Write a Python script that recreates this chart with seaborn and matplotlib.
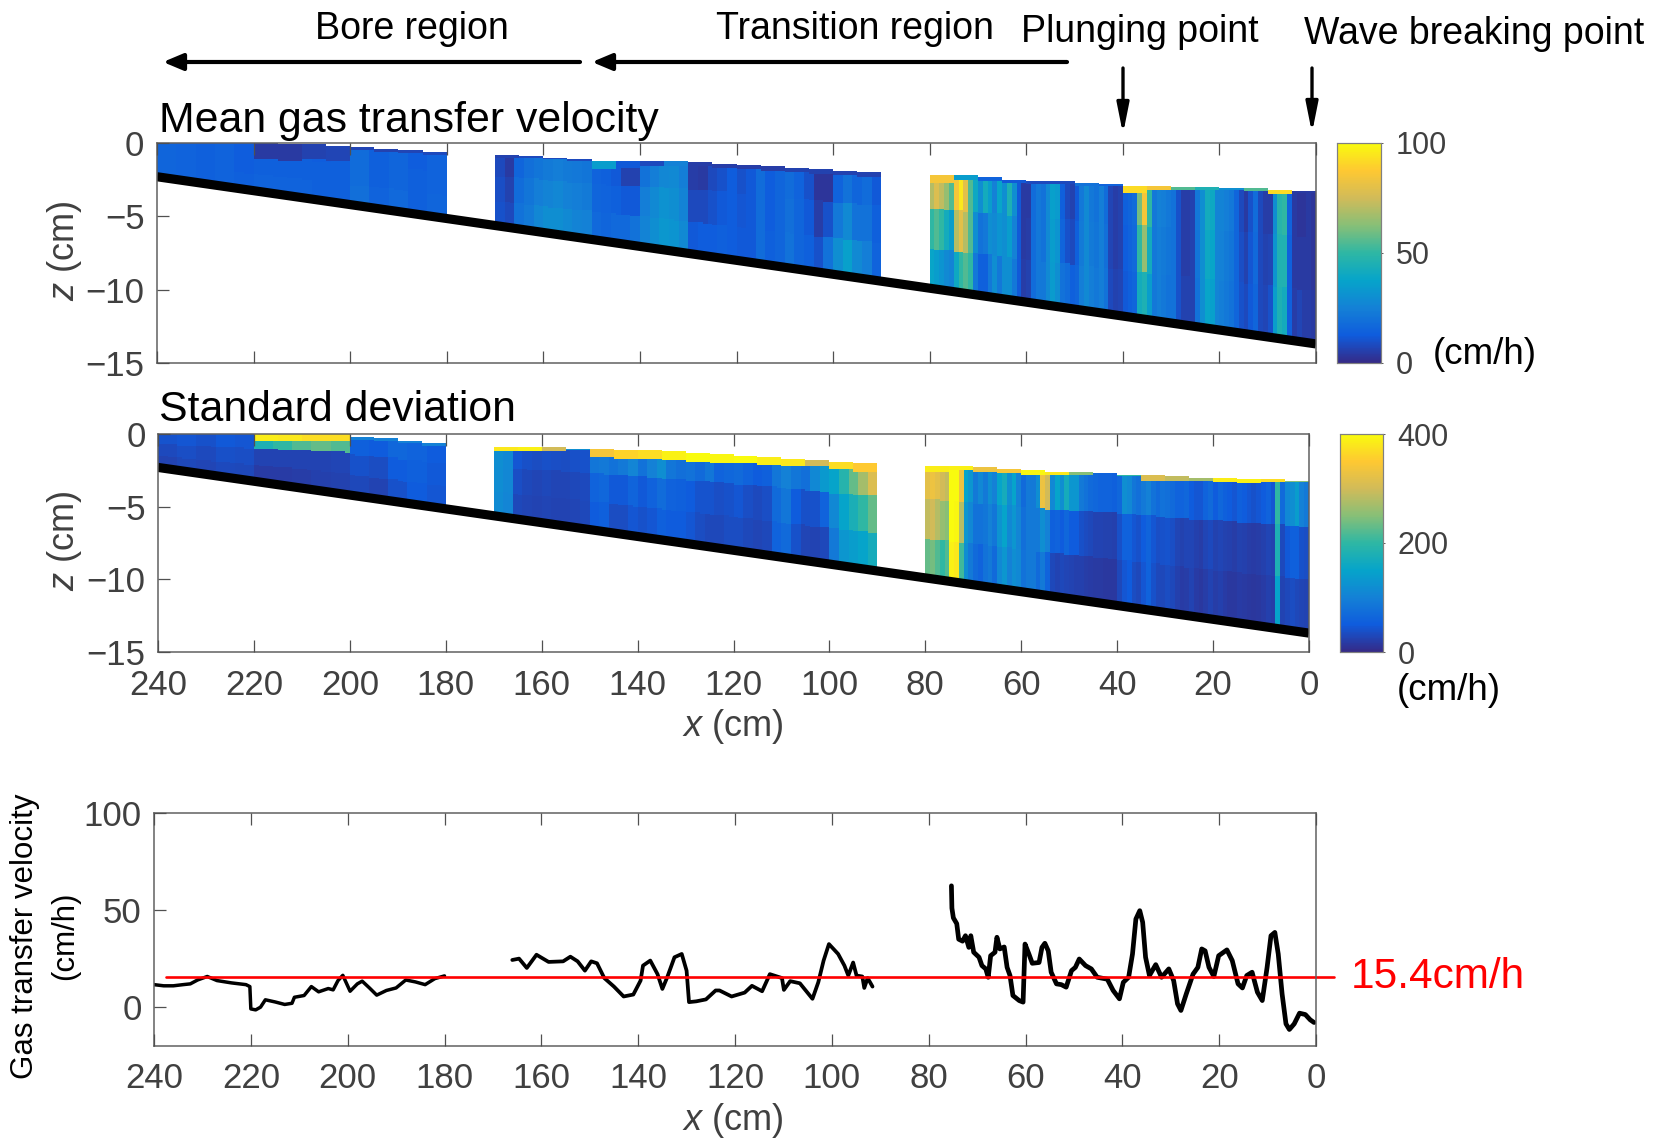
import numpy as np
import pandas as pd
import matplotlib
matplotlib.use("Agg")
import matplotlib.pyplot as plt
from matplotlib.colors import LinearSegmentedColormap
import seaborn as sns

nan = float("nan")

FIG_W = 1653
FIG_H = 1138
GREY = "#404040"

x_ticks = [240, 220, 200, 180, 160, 140, 120, 100, 80, 60, 40, 20, 0]
z_ticks = [0, -5, -10, -15]
vel_ticks = [0, 50, 100]
mean_cbar_ticks = [0, 50, 100]
std_cbar_ticks = [0, 200, 400]

bed_x = [0, 240]
bed_z = [-13.7, -2.3]

# water surface depth, one value per 5 cm from x=240 to x=0
mean_surface = [0, 0, 0, 0, .05, .1, .15, .2, .3, .4, .5, .65, nan, nan,
                .85, .9, 1.0, 1.1, 1.2, 1.2, 1.2, 1.25, 1.3, 1.4, 1.5, 1.65, 1.75, 1.85, 1.95, 2.0, nan, nan,
                2.2, 2.25, 2.35, 2.5, 2.6, 2.65, 2.75, 2.8, 2.9, 2.95, 3.0, 3.0, 3.1, 3.15, 3.2, 3.3]
std_surface = [0, 0, 0, 0, 0, 0, 0, 0, .25, .35, .5, .65, nan, nan,
               .9, .95, .95, 1.0, 1.05, 1.1, 1.15, 1.25, 1.3, 1.4, 1.5, 1.6, 1.7, 1.85, 1.95, 2.0, nan, nan,
               2.2, 2.25, 2.35, 2.45, 2.55, 2.6, 2.65, 2.7, 2.8, 2.85, 2.95, 3.0, 3.0, 3.1, 3.15, 3.25]

# thin layer under the surface, one value per 5 cm
mean_band_depth = [.1, .1, .1, .1, 1.1, 1.1, 1.0, 1.0, .2, .2, .2, .2, 0, 0,
                   .15, .15, .15, .15, .6, .5, .4, .4, .3, .3, .3, .3, .3, .3, .3, .3, 0, 0,
                   .5, .25, .2, .2, .2, .15, .15, .1, .5, .3, .2, .2, .15, .15, .3, .1]
mean_band = [12, 12, 12, 12, 4, 4, 6, 7, 7, 6, 7, 8, 0, 0,
             6, 8, 8, 8, 35, 12, 8, 25, 5, 5, 5, 5, 6, 6, 6, 6, 0, 0,
             85, 35, 15, 12, 8, 8, 20, 15, 92, 85, 55, 45, 30, 55, 92, 4]
std_band_depth = [.05, .05, .05, .05, .55, .55, .5, .5, .15, .15, .15, .15, 0, 0,
                  .3, .3, .3, .1, .6, .6, .55, .6, .6, .6, .5, .45, .5, .35, .5, .6, 0, 0,
                  .4, .3, .3, .25, .3, .2, .15, .05, .15, .4, .3, .25, .3, .3, .2, .1]
std_band = [40, 40, 40, 40, 385, 380, 370, 370, 100, 100, 100, 100, 0, 0,
            380, 390, 300, 120, 340, 360, 370, 390, 400, 395, 400, 385, 380, 300, 370, 350, 0, 0,
            385, 390, 330, 340, 395, 380, 250, 120, 200, 310, 290, 270, 385, 390, 370, 250]

# bore part, 4 cm columns from x=240 to x=180
mean_bore_upper = [16, 15, 14, 15, 13, 14, 14, 14, 13, 14, 18, 14, 16, 13, 15]
mean_bore_mid = [16, 15, 14, 15, 13, 14, 14, 14, 14, 14, 18, 14, 16, 14, 15]
mean_bore_lower = [16, 15, 14, 15, 14, 15, 15, 15, 14, 14, 19, 15, 17, 14, 16]
std_bore_upper = [42, 45, 40, 48, 45, 180, 200, 220, 230, 220, 55, 50, 65, 60, 50]
std_bore_mid = [32, 36, 32, 38, 36, 25, 25, 26, 26, 28, 40, 35, 50, 55, 48]
std_bore_lower = [25, 30, 28, 32, 30, 18, 18, 20, 22, 24, 30, 25, 40, 50, 45]

# transition part, 2 cm columns from x=170 to x=90
mean_trans_upper = [8, 4, 16, 19, 21, 23, 24, 23, 22, 21, 15, 14, 12, 6, 6, 20, 24, 27, 28, 24,
                    5, 4, 8, 10, 13, 10, 12, 18, 13, 16, 18, 15, 10, 3, 3, 15, 20, 16, 18, 12]
mean_trans_mid = [9, 6, 18, 21, 24, 26, 27, 25, 24, 23, 16, 15, 14, 12, 12, 24, 28, 31, 30, 26,
                  8, 8, 10, 12, 13, 11, 12, 18, 13, 16, 19, 16, 12, 5, 10, 22, 28, 20, 20, 14]
mean_trans_lower = [10, 8, 20, 23, 27, 30, 30, 28, 26, 25, 17, 16, 17, 17, 20, 26, 30, 33, 32, 28,
                    12, 13, 13, 14, 13, 12, 12, 18, 14, 16, 20, 16, 14, 10, 20, 30, 36, 28, 24, 15]
std_trans_upper = [120, 110, 45, 38, 35, 38, 36, 35, 38, 40, 85, 90, 80, 90, 105, 80, 100, 120, 85, 75,
                   80, 70, 85, 60, 65, 70, 60, 50, 55, 85, 100, 85, 75, 110, 135, 150, 190, 230, 270, 310]
std_trans_mid = [118, 108, 36, 30, 28, 30, 28, 28, 30, 32, 60, 65, 48, 48, 62, 48, 58, 72, 58, 55,
                 50, 42, 42, 36, 40, 44, 36, 32, 36, 70, 85, 50, 38, 40, 60, 110, 150, 175, 200, 230]
std_trans_lower = [115, 105, 30, 28, 25, 28, 25, 25, 28, 30, 50, 55, 35, 35, 45, 40, 45, 55, 50, 50,
                   45, 35, 30, 30, 35, 35, 30, 28, 30, 60, 70, 40, 28, 25, 30, 90, 130, 140, 150, 170]

# plunging part, 1 cm columns from x=80 to x=0
mean_plunge_upper = [70, 78, 72, 65, 55, 85, 95, 80, 55, 40, 30, 42, 35, 25, 38, 30, 45, 30, 12, 4,
                     4, 18, 22, 20, 28, 36, 34, 14, 8, 6, 12, 22, 28, 22, 20, 24, 18, 7, 5, 6,
                     14, 16, 18, 60, 85, 50, 22, 25, 24, 22, 20, 10, 5, 5, 6, 22, 30, 42, 40, 26,
                     26, 24, 22, 16, 8, 4, 10, 18, 8, 5, 5, 30, 48, 50, 15, 4, 3, 3, 4, 3]
mean_plunge_mid = [50, 55, 50, 42, 35, 70, 80, 70, 55, 30, 20, 22, 30, 28, 32, 30, 35, 25, 12, 4,
                   5, 18, 22, 20, 28, 35, 32, 16, 10, 8, 14, 23, 28, 23, 21, 24, 19, 7, 5, 6,
                   13, 15, 17, 50, 65, 42, 22, 24, 23, 21, 20, 10, 5, 5, 6, 21, 30, 40, 38, 26,
                   25, 23, 21, 16, 9, 6, 11, 17, 8, 6, 7, 32, 46, 46, 14, 4, 4, 4, 4, 3]
mean_plunge_lower = [38, 35, 32, 28, 26, 40, 50, 55, 50, 22, 14, 14, 22, 30, 22, 30, 30, 22, 12, 5,
                     6, 18, 22, 22, 28, 34, 30, 20, 18, 14, 16, 24, 28, 24, 22, 24, 20, 8, 6, 7,
                     12, 14, 16, 42, 45, 35, 22, 24, 22, 20, 20, 10, 6, 6, 6, 20, 30, 38, 36, 26,
                     24, 22, 20, 16, 10, 8, 12, 16, 8, 7, 10, 35, 45, 42, 14, 5, 7, 5, 5, 4]
std_plunge_upper = [320, 330, 320, 300, 290, 400, 400, 330, 150, 130, 90, 110, 90, 120, 100, 150, 170, 120, 150, 100,
                    70, 90, 90, 120, 330, 300, 110, 150, 120, 170, 130, 130, 90, 80, 70, 65, 60, 60, 60, 55,
                    65, 120, 110, 85, 75, 90, 100, 80, 70, 80, 75, 70, 60, 60, 65, 50, 45, 45, 60, 70,
                    50, 65, 55, 50, 45, 55, 50, 45, 40, 45, 50, 60, 45, 200, 70, 110, 120, 140, 100, 90]
std_plunge_mid = [290, 300, 280, 260, 250, 400, 395, 280, 130, 110, 80, 80, 85, 100, 85, 125, 150, 110, 130, 105,
                  75, 90, 90, 90, 120, 100, 55, 60, 50, 65, 50, 50, 38, 34, 30, 26, 26, 24, 24, 22,
                  38, 58, 58, 45, 40, 50, 62, 45, 36, 40, 42, 36, 28, 24, 28, 28, 22, 20, 28, 32,
                  24, 28, 24, 22, 20, 24, 22, 20, 18, 20, 22, 28, 24, 180, 32, 48, 56, 56, 40, 36]
std_plunge_lower = [230, 240, 220, 200, 220, 390, 380, 210, 120, 90, 70, 60, 80, 90, 70, 110, 130, 100, 120, 110,
                    80, 90, 90, 70, 90, 60, 30, 25, 30, 28, 25, 22, 22, 20, 18, 16, 16, 15, 15, 15,
                    30, 45, 50, 35, 30, 45, 60, 40, 30, 30, 35, 30, 22, 18, 20, 25, 18, 15, 20, 25,
                    20, 22, 18, 15, 15, 18, 16, 15, 14, 15, 18, 22, 20, 150, 25, 30, 35, 30, 28, 25]

# gas transfer velocity along the flume
bore_x = [240, 238, 236, 234, 232.5, 231, 229, 227, 224, 221, 220.2, 220, 219, 218, 217, 215, 213, 211.5, 211, 209,
          207.5, 206, 204, 203, 202, 201, 199.5, 198, 197, 195.5, 194, 192, 190, 188, 186, 184, 182, 180]
bore_vel = [11.6, 11, 11, 11.6, 12, 14, 15.8, 13.7, 12.5, 11.6, 10.6, -.9, -1.4, 0, 3.8, 2.7, 1.4, 2, 5.1, 6,
            10.6, 7.9, 9.6, 8.9, 13.7, 16.4, 8.2, 12, 13.4, 9.9, 6.2, 8.6, 9.9, 14, 13, 11.6, 14.7, 16.1]
trans_x = [166, 164.6, 163, 161, 158.5, 155.5, 154, 152.5, 151, 149.7, 148.5, 147, 145, 143, 141, 139.5, 139, 137.5,
           136, 135, 134, 132.5, 131, 130, 129.5, 128, 126, 124, 123.2, 120.7, 118, 116.5, 114.4, 112.8, 110.3, 109.9,
           108.6, 106.6, 104, 102.8, 101.7, 100.6, 98.7, 97.4, 96.6, 95.6, 94.9, 93.7, 93.3, 92.6, 91.6]
trans_vel = [24.3, 25, 20.2, 27, 23.3, 23.6, 26, 23.6, 18.8, 23.6, 22.6, 15, 10.6, 5.5, 6.5, 13.7, 21.4, 24,
             17, 9.4, 15.4, 25.7, 27.4, 18.8, 2.6, 3, 4, 8.6, 8.6, 5.5, 7.5, 11, 8.2, 17, 15, 8.9,
             13.4, 12.3, 4.3, 12.8, 24, 32.5, 27.4, 21.4, 16.3, 23, 16.3, 15.8, 9.9, 15, 10.6]
plunge_x = [75.3, 75.2, 74.9, 74.2, 73.8, 73, 72.4, 71.7, 71.3, 70.7, 69.6, 69, 68.2, 67.7, 67.2, 66.3, 65.9, 65.3,
            64.4, 63.8, 63.2, 62.6, 61.3, 60.5, 60.1, 59.3, 58.6, 57.2, 56.6, 56, 55.3, 54.7, 53.6, 52.6, 51.6, 50.5,
            49.7, 48.9, 47.6, 46.4, 45.2, 43.1, 41.9, 40.6, 39.8, 38.7, 37.9, 37.2, 36.4, 35.8, 35.2, 34.4, 33.1, 31.9,
            30.4, 29.4, 28.6, 27.9, 26.8, 25.4, 24.4, 23.6, 22.9, 22.1, 21.1, 20.1, 18.4, 17.3, 16.1, 15.2, 14.3, 13.2,
            12.1, 11.1, 10.1, 9.3, 8.5, 7.8, 7, 6.2, 5.5, 4.5, 3.4, 2.2, 1.2, .4]
plunge_vel = [62.5, 51, 46, 43, 35, 34, 36.8, 30.8, 36.8, 28.3, 25.7, 21.4, 19.7, 15.4, 26.5, 28.3, 36, 30,
              31, 20.5, 16.3, 6, 3.4, 2.6, 32.5, 27.4, 22.6, 23, 30.8, 32.9, 29, 18, 12, 11.6, 10.3, 18.8,
              20.5, 24.8, 21.4, 19.7, 15.4, 14.4, 8.6, 4.3, 12.8, 15.4, 27.4, 45.4, 49.7, 43.7, 25.7, 16.3, 21.9, 15.4,
              19.7, 13.7, 1.7, -1.7, 6.8, 17, 20.5, 30, 29, 20.5, 15.8, 26.5, 29.5, 24, 12, 9.9, 16.3, 18,
              7.7, 3.4, 20.5, 36.8, 38.5, 27.4, 6.8, -8.6, -11.5, -8.6, -3.1, -3.8, -6.5, -7.9]
mean_vel = [15.4, 15.4]
mean_vel_x = [237.6, -3.7]

parula_colors = ["#352a87", "#0f5cdd", "#1481d6", "#06a4ca", "#2eb7a4", "#87bf77", "#d1bb59", "#fec832", "#f9fb0e"]
parula = LinearSegmentedColormap.from_list("parula", parula_colors)

sns.set_theme(style="white")
plt.rcParams["font.family"] = ["Liberation Sans", "DejaVu Sans"]
plt.rcParams["mathtext.fontset"] = "custom"
plt.rcParams["mathtext.it"] = "Liberation Sans:italic"
plt.rcParams["mathtext.rm"] = "Liberation Sans"


def px_axes(fig, left, top, right, bottom):
    return fig.add_axes([left / FIG_W, 1 - bottom / FIG_H, (right - left) / FIG_W, (bottom - top) / FIG_H])


def columns(bore, trans, plunge):
    # one value per cm, empty in the two gaps between camera windows
    gap = [nan] * 10
    return np.concatenate([np.repeat(bore, 4), gap, np.repeat(trans, 2), gap, plunge])


def build_field(surface, band_depth, band, upper, mid, lower):
    depth = np.arange(150) * 0.1 + 0.05
    x_mid = 240 - np.arange(240) - 0.5
    bed = -np.interp(x_mid, bed_x, bed_z)
    field = np.full((150, 240), nan)
    for j in range(240):
        top = surface[j // 5]
        if np.isnan(top):
            continue
        frac = (depth - top) / (bed[j] - top)
        values = np.where(frac < 0.3, upper[j], np.where(frac < 0.65, mid[j], lower[j]))
        values = np.where(depth < top + band_depth[j // 5], band[j // 5], values)
        field[:, j] = np.where((depth >= top) & (depth <= bed[j]), values, nan)
    index = [f"{-d:.2f}" for d in depth]
    return pd.DataFrame(field, index=index, columns=240 - np.arange(240))


def style_axes(ax, x_labels, xt, xlabs, x_pad):
    for spine in ax.spines.values():
        spine.set_visible(True)
        spine.set_color("#606060")
        spine.set_linewidth(1.1)
    ax.set_xticks(xt)
    ax.set_xticklabels(xlabs if x_labels else [], rotation=0)
    ax.tick_params(axis="both", direction="in", length=8.5, width=0.9, color="#505050",
                   labelcolor=GREY, labelsize=25, top=True, bottom=True, left=True, right=False)
    ax.tick_params(axis="x", pad=x_pad)
    ax.tick_params(axis="y", pad=9)
    ax.set_xlabel("")
    ax.set_ylabel("")
    ax.set_axisbelow(False)


def depth_panel(fig, box, cbar_box, field, vmax, cbar_ticks, x_labels):
    ax = px_axes(fig, *box)
    cax = px_axes(fig, *cbar_box)
    sns.heatmap(field, ax=ax, cmap=parula, vmin=0, vmax=vmax, cbar_ax=cax,
                cbar_kws={"ticks": cbar_ticks}, xticklabels=False, yticklabels=False)
    # bed slope, heatmap axes count in cells
    ax.plot([240 - bed_x[1], 240 - bed_x[0]], [-bed_z[1] * 10, -bed_z[0] * 10], color="black",
            lw=6.6, solid_capstyle="butt")
    style_axes(ax, x_labels, [240 - t for t in x_ticks], x_ticks, 12.5)
    ax.set_yticks([-t * 10 for t in z_ticks])
    ax.set_yticklabels([str(t).replace("-", "\u2212") for t in z_ticks], rotation=0)
    ax.set_xlim(0, 240)
    ax.set_ylim(150, 0)
    cax.tick_params(length=1.5, width=0.6, labelsize=22, labelcolor=GREY, pad=9, right=True, color=GREY)
    for spine in cax.spines.values():
        spine.set_visible(True)
        spine.set_color("#808080")
        spine.set_linewidth(0.8)
    return ax


def label(fig, x, y, text, size=26.5, color="black", rotation=0, ha="center"):
    fig.text(x / FIG_W, 1 - y / FIG_H, text, fontsize=size, color=color, rotation=rotation,
             ha=ha, va="center", rotation_mode="anchor" if rotation else "default")


def arrow(fig, start, end, lw, head):
    fig.add_artist(plt.Annotation("", xy=(end[0] / FIG_W, 1 - end[1] / FIG_H),
                                  xytext=(start[0] / FIG_W, 1 - start[1] / FIG_H),
                                  xycoords="figure fraction", textcoords="figure fraction",
                                  arrowprops=dict(arrowstyle=head, color="black", lw=lw, shrinkA=0, shrinkB=0)))


def plot_gas_transfer():
    fig = plt.figure(figsize=(FIG_W / 100, FIG_H / 100), dpi=100)

    mean_field = build_field(mean_surface, mean_band_depth, mean_band,
                             columns(mean_bore_upper, mean_trans_upper, mean_plunge_upper),
                             columns(mean_bore_mid, mean_trans_mid, mean_plunge_mid),
                             columns(mean_bore_lower, mean_trans_lower, mean_plunge_lower))
    std_field = build_field(std_surface, std_band_depth, std_band,
                            columns(std_bore_upper, std_trans_upper, std_plunge_upper),
                            columns(std_bore_mid, std_trans_mid, std_plunge_mid),
                            columns(std_bore_lower, std_trans_lower, std_plunge_lower))

    depth_panel(fig, (157, 143, 1316, 363), (1337, 143, 1381, 363), mean_field, 100, mean_cbar_ticks, False)
    depth_panel(fig, (158, 434, 1309, 652), (1340, 434, 1383, 652), std_field, 400, std_cbar_ticks, True)

    ax = px_axes(fig, 154, 813, 1316, 1046)
    sns.lineplot(x=bore_x, y=bore_vel, ax=ax, color="black", lw=2.5, estimator=None)
    sns.lineplot(x=trans_x, y=trans_vel, ax=ax, color="black", lw=2.7, estimator=None)
    sns.lineplot(x=plunge_x, y=plunge_vel, ax=ax, color="black", lw=3.4, estimator=None)
    ax.plot(mean_vel_x, mean_vel, color="#ff0000", lw=1.9, clip_on=False)
    style_axes(ax, True, x_ticks, x_ticks, 11.5)
    ax.set_yticks(vel_ticks)
    ax.set_yticklabels(vel_ticks)
    ax.set_xlim(240, 0)
    ax.set_ylim(-20, 100)

    label(fig, 412, 29, "Bore region", size=27)
    label(fig, 855, 29, "Transition region", size=27)
    label(fig, 1140, 32, "Plunging point", size=27)
    label(fig, 1474, 34, "Wave breaking point", size=27)
    label(fig, 159, 121, "Mean gas transfer velocity", size=30.8, ha="left")
    label(fig, 159, 410, "Standard deviation", size=30.8, ha="left")
    label(fig, 1433, 354, "(cm/h)", ha="left")
    label(fig, 1397, 690, "(cm/h)", ha="left")
    label(fig, 1351, 977, "15.4cm/h", size=30.5, color="#ff0000", ha="left")
    label(fig, 25, 936, "Gas transfer velocity", size=22.5, rotation=90)
    label(fig, 65, 936, "(cm/h)", size=22.5, rotation=90)

    x_label = r"$x$ (cm)"
    z_label = r"$z$ (cm)"
    label(fig, 733, 727, x_label, size=26, color=GREY)
    label(fig, 733, 1120, x_label, size=26, color=GREY)
    label(fig, 65, 251, z_label, size=26, color=GREY, rotation=90)
    label(fig, 65, 541, z_label, size=26, color=GREY, rotation=90)

    arrow(fig, (580, 62), (163, 62), 3.0, "-|>,head_length=1.0,head_width=0.42")
    arrow(fig, (1067, 62), (592, 62), 3.0, "-|>,head_length=1.0,head_width=0.42")
    arrow(fig, (1123, 68), (1123, 134), 2.4, "-|>,head_length=1.5,head_width=0.3")
    arrow(fig, (1312, 68), (1312, 133), 2.4, "-|>,head_length=1.5,head_width=0.3")

    fig.savefig("out.png", dpi=100)
    plt.close(fig)


if __name__ == "__main__":
    plot_gas_transfer()
